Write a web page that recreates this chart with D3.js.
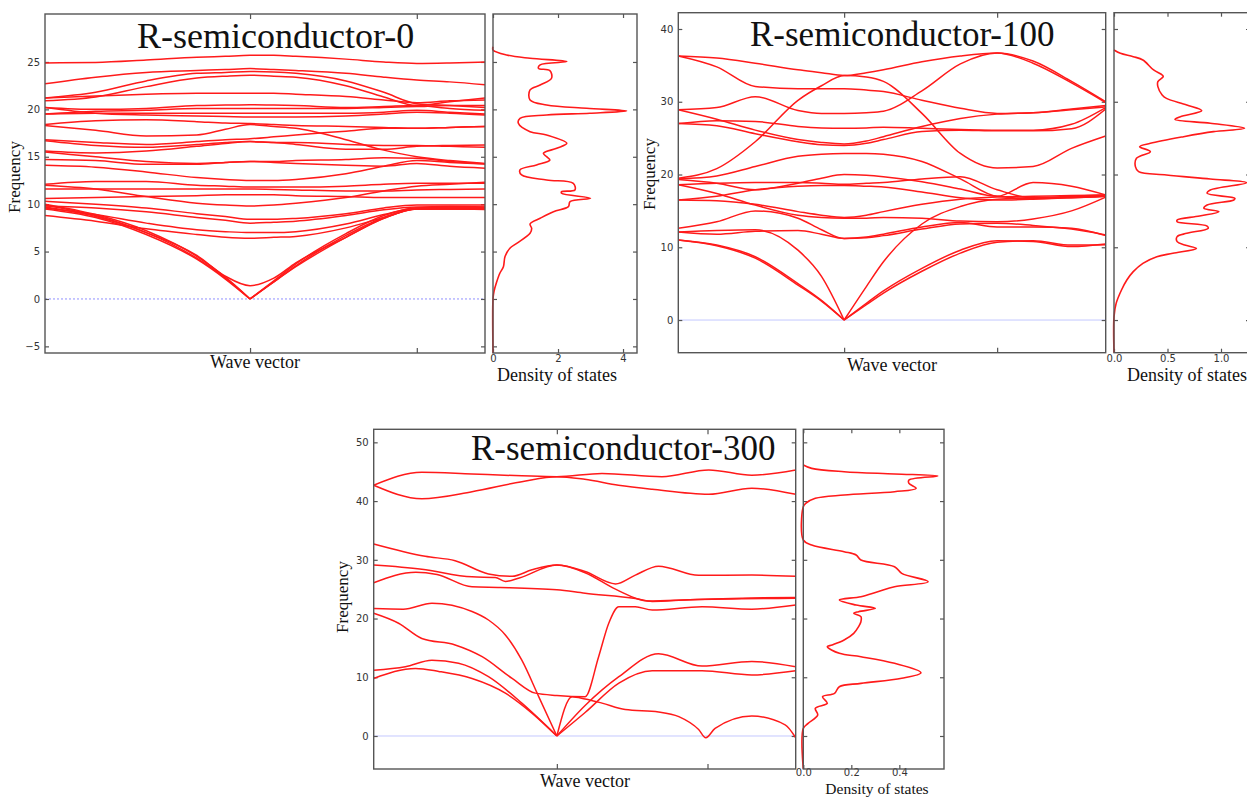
<!DOCTYPE html>
<html>
<head>
<meta charset="utf-8">
<script src="https://cdn.jsdelivr.net/npm/d3@7"></script>
<style>
  body { margin: 0; background: #fff; }
  svg { display: block; }
  .tick text { font-family: "DejaVu Sans", sans-serif; font-size: 10px; fill: #333; }
  .tick line { stroke: #555; stroke-width: 1.2; }
  .serif { font-family: "Liberation Serif", "Times New Roman", serif; fill: #111; }
</style>
</head>
<body>
<svg id="chart" width="1247" height="797"></svg>
<script>
// ---- R-semiconductor-0 ----
const kGrid0 = [0, 0.115, 0.23, 0.345, 0.41, 0.466, 0.52, 0.57, 0.684, 0.77, 0.845, 0.92, 1.0]
const bands0 = [
  [24.9, 24.95, 25.2, 25.5, 25.6, 25.7, 25.7, 25.6, 25.3, 25.0, 24.85, 24.9, 25.0],
  [22.7, 23.4, 23.9, 24.1, 24.2, 24.3, 24.2, 24.1, 23.8, 23.4, 23.1, 22.9, 22.6],
  [21.2, 21.8, 23.0, 23.8, 23.9, 24.0, 23.95, 23.8, 23.0, 21.8, 20.6, 20.4, 20.2],
  [20.9, 21.3, 22.4, 23.3, 23.5, 23.6, 23.5, 23.4, 22.5, 21.3, 20.4, 20.8, 21.2],
  [21.2, 21.4, 21.6, 21.7, 21.7, 21.7, 21.7, 21.6, 21.35, 21.0, 20.7, 20.9, 21.0],
  [20.2, 20.0, 20.1, 20.4, 20.45, 20.5, 20.45, 20.4, 20.2, 20.3, 20.4, 20.1, 19.9],
  [19.5, 19.8, 19.9, 20.1, 20.1, 20.1, 20.1, 20.1, 20.1, 20.2, 20.3, 20.4, 20.4],
  [19.5, 19.6, 19.6, 19.6, 19.6, 19.6, 19.6, 19.6, 19.6, 19.7, 19.9, 19.7, 19.5],
  [20.2, 19.6, 19.4, 19.3, 19.25, 19.2, 19.2, 19.2, 19.3, 19.5, 19.7, 19.6, 19.4],
  [18.4, 18.8, 18.9, 18.7, 18.55, 18.5, 18.4, 18.3, 18.2, 18.1, 18.0, 18.1, 18.2],
  [18.3, 17.8, 17.2, 17.3, 17.9, 18.4, 18.2, 18.0, 16.8, 15.7, 15.0, 14.6, 14.3],
  [16.8, 16.5, 16.3, 16.6, 16.8, 16.9, 17.1, 17.3, 17.7, 18.0, 18.0, 18.1, 18.2],
  [16.7, 16.2, 16.0, 16.3, 16.5, 16.6, 16.5, 16.5, 16.3, 16.2, 16.2, 16.1, 16.0],
  [15.6, 15.4, 15.6, 16.1, 16.4, 16.6, 16.5, 16.3, 15.8, 15.8, 16.1, 16.2, 16.25],
  [15.5, 15.0, 14.5, 14.3, 14.4, 14.5, 14.5, 14.6, 14.7, 14.9, 14.85, 14.5, 14.25],
  [14.7, 14.6, 14.2, 14.2, 14.4, 14.5, 14.4, 14.3, 14.1, 14.0, 14.3, 14.0, 13.8],
  [14.1, 13.9, 13.4, 12.8, 12.6, 12.5, 12.5, 12.6, 13.2, 14.0, 14.6, 14.4, 14.25],
  [12.1, 12.4, 12.4, 12.0, 11.9, 11.8, 11.8, 11.8, 11.9, 12.1, 12.2, 12.2, 12.2],
  [11.6, 11.6, 11.6, 11.6, 11.6, 11.6, 11.55, 11.5, 11.4, 11.4, 11.5, 11.55, 11.6],
  [12.0, 11.6, 10.8, 10.1, 9.9, 9.8, 9.9, 10.1, 10.7, 11.4, 11.9, 12.1, 12.3],
  [10.6, 10.7, 10.8, 10.9, 11.0, 11.0, 11.0, 10.9, 10.8, 10.7, 10.7, 10.7, 10.7],
  [10.3, 10.0, 9.6, 9.0, 8.7, 8.4, 8.4, 8.5, 9.0, 9.6, 9.9, 9.9, 9.9],
  [9.8, 9.6, 9.2, 8.6, 8.3, 8.0, 8.1, 8.2, 8.8, 9.4, 9.7, 9.75, 9.7],
  [9.6, 8.9, 8.0, 7.3, 7.1, 7.0, 7.0, 7.1, 7.9, 8.9, 9.6, 9.6, 9.6],
  [8.8, 8.2, 7.4, 6.8, 6.5, 6.4, 6.5, 6.6, 7.5, 8.6, 9.5, 9.5, 9.5],
  [9.9, 8.8, 7.0, 4.6, 2.4, 1.4, 2.2, 3.8, 6.5, 8.5, 9.5, 9.5, 9.45],
  [10.0, 8.9, 7.2, 4.5, 2.3, 0, 1.9, 3.7, 6.9, 8.8, 9.6, 9.7, 9.7],
  [9.5, 8.6, 6.8, 4.2, 2.1, 0, 1.8, 3.4, 6.5, 8.5, 9.5, 9.5, 9.5],
  [9.7, 8.7, 7.0, 4.3, 2.2, 0, 1.8, 3.5, 6.7, 8.6, 9.55, 9.6, 9.6]
]
// density of states: [frequency, dos]
const dos0 = [
  [26.6, 0], [26.27, 0.0], [25.74, 0.42], [25.39, 1.14], [25.04, 2.27], [24.7, 1.45], [24.33, 1.4],
  [24.09, 1.75], [23.28, 1.8], [22.57, 1.45], [22.05, 1.14], [20.99, 1.14], [20.46, 1.65], [20.11, 2.88],
  [19.83, 4.11], [19.59, 2.98], [19.41, 1.65], [19.06, 0.83], [18.53, 0.78], [17.65, 1.14], [17.3, 1.65],
  [16.42, 2.27], [15.9, 1.96], [15.37, 1.55], [15.01, 1.65], [14.66, 1.75], [14.14, 1.34], [13.61, 0.83],
  [13.08, 0.88], [12.55, 1.65], [12.2, 2.47], [11.5, 2.52], [11.32, 2.11], [11.15, 2.11], [10.62, 3.0],
  [10.27, 2.37], [9.74, 2.32], [9.21, 1.86], [8.51, 1.45], [7.91, 1.14], [7.45, 1.19], [6.93, 1.14],
  [5.87, 0.73], [5.35, 0.52], [4.47, 0.37], [3.41, 0.32], [2.71, 0.21], [1.65, 0.1], [0.78, 0.03],
  [0, 0], [-5.7, 0]
]

// ---- R-semiconductor-100 ----
const kGrid100 = [0, 0.09, 0.18, 0.28, 0.335, 0.388, 0.44, 0.48, 0.57, 0.66, 0.746, 0.83, 0.92, 1.0]
const bands100 = [
  [36.3, 36.0, 35.3, 34.4, 34.0, 33.6, 34.0, 34.4, 35.5, 36.3, 36.7, 35.6, 32.8, 30.0],
  [36.3, 34.8, 32.1, 31.8, 31.8, 31.8, 31.6, 31.4, 30.2, 29.1, 28.4, 28.5, 29.0, 29.5],
  [28.9, 29.2, 30.7, 28.8, 28.4, 28.4, 28.5, 28.7, 31.5, 35.2, 36.7, 35.3, 32.6, 29.9],
  [28.9, 27.6, 26.1, 24.8, 24.4, 24.2, 24.6, 25.2, 26.6, 27.7, 28.3, 28.5, 28.9, 29.3],
  [27.0, 27.4, 27.3, 26.6, 26.4, 26.35, 26.4, 26.5, 26.35, 26.2, 26.1, 26.1, 26.9, 29.2],
  [27.0, 26.7, 25.6, 24.5, 24.1, 24.0, 24.3, 24.8, 25.9, 26.1, 26.0, 26.0, 26.3, 29.0],
  [19.5, 20.8, 24.5, 30.2, 32.2, 33.6, 33.4, 32.8, 28.4, 22.9, 20.9, 21.1, 23.6, 25.3],
  [19.4, 19.8, 21.1, 22.5, 22.8, 22.9, 22.9, 22.8, 21.8, 19.4, 17.0, 16.7, 16.9, 17.1],
  [19.3, 18.8, 17.9, 18.8, 19.5, 20.0, 19.9, 19.7, 19.0, 18.0, 17.0, 18.9, 18.4, 17.2],
  [18.6, 18.8, 18.9, 18.9, 18.8, 18.65, 18.8, 18.9, 19.4, 19.7, 17.9, 16.8, 16.8, 17.0],
  [18.6, 17.4, 15.8, 14.4, 14.1, 14.0, 14.0, 14.1, 14.0, 13.6, 13.5, 13.9, 15.0, 16.9],
  [16.5, 16.4, 15.9, 14.9, 14.4, 14.1, 14.4, 14.9, 15.9, 16.6, 16.9, 17.0, 17.1, 17.2],
  [16.5, 17.0, 17.9, 18.4, 18.5, 18.5, 18.4, 18.3, 17.6, 16.8, 16.5, 16.6, 16.8, 17.0],
  [12.6, 13.5, 15.0, 14.0, 12.4, 11.2, 11.4, 11.8, 12.8, 13.4, 12.8, 12.8, 12.6, 11.6],
  [12.1, 11.8, 12.2, 12.3, 11.8, 11.2, 11.3, 11.6, 12.5, 13.2, 13.3, 13.0, 12.5, 11.7],
  [12.1, 12.3, 12.4, 9.6, 6.0, 0, 4.6, 8.0, 13.2, 15.6, 16.6, 16.8, 17.0, 17.2],
  [11.0, 10.3, 8.7, 5.0, 2.7, 0, 2.3, 4.0, 7.1, 9.6, 10.9, 10.8, 10.1, 10.45],
  [11.0, 10.2, 8.5, 4.8, 2.6, 0, 2.1, 3.7, 6.7, 9.2, 10.7, 10.9, 10.3, 10.35]
]
const dos100 = [
  [37.12, 0], [36.66, 0.06], [36.2, 0.18], [35.74, 0.27], [34.37, 0.37], [33.68, 0.45], [33.45, 0.46],
  [32.76, 0.41], [32.08, 0.41], [30.93, 0.45], [30.47, 0.49], [29.56, 0.68], [28.78, 0.82], [27.95, 0.62],
  [27.59, 0.57], [27.04, 0.9], [26.35, 1.22], [25.89, 0.93], [25.2, 0.65], [24.29, 0.34], [23.83, 0.24],
  [23.14, 0.34], [22.23, 0.21], [21.08, 0.2], [20.39, 0.23], [19.93, 0.49], [19.38, 0.9], [18.88, 1.24],
  [17.87, 0.9], [17.41, 0.87], [16.73, 1.13], [16.5, 1.12], [15.81, 0.87], [15.35, 0.84], [14.89, 0.98],
  [14.3, 0.8], [13.75, 0.59], [13.52, 0.59], [12.92, 0.87], [12.6, 0.88], [11.92, 0.68], [11.46, 0.59],
  [10.77, 0.59], [10.31, 0.66], [9.85, 0.77], [9.17, 0.55], [8.71, 0.4], [7.79, 0.27], [6.65, 0.18],
  [5.5, 0.12], [4.13, 0.07], [2.29, 0.02], [0.46, 0], [-4.49, 0]
]

// ---- R-semiconductor-300 ----
const bands300 = [
  [[0, 42.7], [0.114, 44.9], [0.233, 44.6], [0.351, 44.3], [0.434, 44.15], [0.541, 44.7], [0.683, 44.15], [0.794, 45.3], [0.896, 44.4], [1, 45.3]],
  [[0, 42.7], [0.114, 40.4], [0.233, 41.6], [0.351, 43.3], [0.434, 44.15], [0.5, 43.7], [0.58, 42.7], [0.66, 42.0], [0.794, 41.15], [0.896, 42.2], [1, 41.15]],
  [[0, 32.7], [0.122, 30.6], [0.193, 29.85], [0.272, 27.6], [0.328, 27.2], [0.375, 28.3], [0.434, 29.1], [0.501, 28.0], [0.573, 25.9], [0.62, 27.4], [0.675, 28.9], [0.77, 27.35], [0.896, 27.4], [1, 27.2]],
  [[0, 29.1], [0.114, 28.4], [0.233, 27.1], [0.288, 27.0], [0.312, 26.3], [0.345, 26.9], [0.434, 29.1], [0.501, 27.8], [0.573, 25.0], [0.65, 23.0], [0.75, 23.2], [0.896, 23.5], [1, 23.6]],
  [[0, 26.1], [0.1, 27.9], [0.15, 27.5], [0.233, 25.4], [0.3, 25.3], [0.434, 24.9], [0.501, 24.3], [0.62, 23.4], [0.66, 22.9], [0.75, 23.2], [1, 23.45]],
  [[0, 21.7], [0.07, 21.6], [0.138, 22.6], [0.233, 21.2], [0.272, 19.75], [0.312, 17.2], [0.351, 12.9], [0.391, 6.7], [0.434, 0], [0.47, 6.7], [0.501, 6.3], [0.541, 5.6], [0.596, 4.5], [0.675, 4.1], [0.723, 3.3], [0.77, 1.1], [0.787, -0.3], [0.809, 1.3], [0.896, 3.4], [0.975, 1.9], [1, -0.3]],
  [[0, 20.9], [0.059, 19.2], [0.114, 16.6], [0.193, 15.5], [0.257, 13.5], [0.328, 9.8], [0.383, 7.3], [0.434, 6.9], [0.501, 6.7], [0.533, 13.5], [0.557, 19.2], [0.581, 22.0], [0.62, 22.0], [0.66, 21.45], [0.778, 22.0], [0.896, 21.6], [1, 22.3]],
  [[0, 11.2], [0.075, 11.8], [0.138, 12.9], [0.201, 12.4], [0.272, 10.1], [0.351, 5.6], [0.434, 0], [0.501, 5.2], [0.581, 10.1], [0.675, 14.0], [0.778, 11.9], [0.896, 12.7], [1, 11.8]],
  [[0, 9.8], [0.099, 11.5], [0.154, 11.0], [0.233, 9.8], [0.312, 7.3], [0.375, 3.9], [0.434, 0], [0.501, 4.0], [0.581, 9.0], [0.66, 11.1], [0.778, 11.1], [0.896, 10.4], [1, 11.1]]
]
const dos300 = [
  [46.14, 0], [45.57, 0.035], [45.0, 0.17], [44.61, 0.38], [44.27, 0.56], [43.59, 0.44], [43.02, 0.44],
  [42.17, 0.47], [41.6, 0.38], [41.03, 0.17], [40.47, 0.05], [39.61, 0.01], [39.05, 0], [33.37, 0],
  [32.52, 0.035], [31.38, 0.17], [30.82, 0.22], [29.97, 0.24], [28.83, 0.38], [27.69, 0.41], [26.27, 0.52],
  [25.42, 0.38], [24.57, 0.31], [23.72, 0.24], [23.15, 0.15], [22.3, 0.22], [21.73, 0.3], [21.17, 0.23],
  [20.88, 0.21], [20.32, 0.24], [19.46, 0.24], [18.61, 0.23], [17.48, 0.21], [16.34, 0.17], [15.49, 0.12],
  [15.21, 0.1], [14.07, 0.15], [13.5, 0.24], [12.37, 0.38], [10.78, 0.49], [9.82, 0.41], [8.96, 0.24],
  [8.39, 0.15], [7.26, 0.13], [6.69, 0.08], [5.56, 0.1], [4.71, 0.05], [3.57, 0.06], [2.15, 0.02],
  [1.3, 0], [-5.6, 0]
]

const svg = d3.select("#chart")
const RED = "#ff1a1a"

// acoustic branches meet zero at Gamma with a sharp cusp: cut the line there
function splitAtZero(pts) {
  let segs = [], cur = []
  pts.forEach((p, i) => {
    cur.push(p)
    if (p[1] === 0 && i > 0 && i < pts.length - 1) {
      segs.push(cur)
      cur = [p]
    }
  })
  segs.push(cur)
  return segs
}

function drawPanel(p) {
  let g = svg.append("g")
  let x = d3.scaleLinear().domain([0, 1]).range([p.left, p.right])
  let y = d3.scaleLinear().domain(p.fDomain).range([p.bottom, p.top])
  let xd = d3.scaleLinear().domain(p.dosDomain).range([p.dLeft, p.dRight])

  // zero line
  g.append("line")
    .attr("x1", p.left).attr("x2", p.right)
    .attr("y1", y(0)).attr("y2", y(0))
    .attr("stroke", p.zeroColor)
    .attr("stroke-width", 1)
    .attr("stroke-dasharray", p.zeroDash)

  // band axes, ticks inward on all sides
  g.append("g").attr("transform", `translate(${p.left},0)`)
    .call(d3.axisLeft(y).tickValues(p.fTicks).tickSize(-4).tickPadding(5))
  g.append("g").attr("transform", `translate(${p.right},0)`)
    .call(d3.axisRight(y).tickValues(p.fTicks).tickSize(-4).tickFormat(""))
  g.append("g").attr("transform", `translate(0,${p.bottom})`)
    .call(d3.axisBottom(x).tickValues(p.kTicks).tickSize(-5).tickFormat(""))
  g.append("g").attr("transform", `translate(0,${p.top})`)
    .call(d3.axisTop(x).tickValues(p.kTicks).tickSize(-5).tickFormat(""))

  // dos axes
  g.append("g").attr("transform", `translate(${p.dLeft},0)`)
    .call(d3.axisLeft(y).tickValues(p.fTicks).tickSize(-4).tickFormat(""))
  g.append("g").attr("transform", `translate(${p.dRight},0)`)
    .call(d3.axisRight(y).tickValues(p.fTicks).tickSize(-4).tickFormat(""))
  g.append("g").attr("transform", `translate(0,${p.bottom})`)
    .call(d3.axisBottom(xd).tickValues(p.dosTicks).tickSize(-4).tickPadding(p.dosPad).tickFormat(d3.format(p.dosFmt)))
  g.append("g").attr("transform", `translate(0,${p.top})`)
    .call(d3.axisTop(xd).tickValues(p.dosTicks).tickSize(-4).tickFormat(""))
  g.selectAll(".domain").remove()

  // band lines
  let clipId = "clip" + p.id
  g.append("clipPath").attr("id", clipId).append("rect")
    .attr("x", p.left).attr("y", p.top)
    .attr("width", p.right - p.left).attr("height", p.bottom - p.top)
  let line = d3.line().x(d => x(d[0])).y(d => y(d[1])).curve(d3.curveMonotoneX)
  g.append("g").attr("clip-path", `url(#${clipId})`)
    .selectAll("path").data(p.bands.flatMap(splitAtZero)).join("path")
    .attr("d", line)
    .attr("fill", "none")
    .attr("stroke", RED)
    .attr("stroke-width", p.lw)

  // dos curve
  let dline = d3.line().x(d => xd(d[1])).y(d => y(d[0])).curve(d3.curveCatmullRom)
  g.append("path").attr("d", dline(p.dos))
    .attr("fill", "none").attr("stroke", RED).attr("stroke-width", 1.6)

  // frames
  g.append("rect").attr("x", p.left).attr("y", p.top)
    .attr("width", p.right - p.left).attr("height", p.bottom - p.top)
    .attr("fill", "none").attr("stroke", "#555").attr("stroke-width", 1.4)
  g.append("rect").attr("x", p.dLeft).attr("y", p.top)
    .attr("width", p.dRight - p.dLeft).attr("height", p.bottom - p.top)
    .attr("fill", "none").attr("stroke", "#555").attr("stroke-width", 1.4)

  // texts
  g.append("text").attr("class", "serif")
    .attr("x", p.titleX).attr("y", p.titleY)
    .attr("font-size", p.titleSize)
    .text(p.title)
  g.append("text").attr("class", "serif")
    .attr("transform", `translate(${p.freqX},${p.freqY}) rotate(-90)`)
    .attr("text-anchor", "middle").attr("font-size", 17)
    .text("Frequency")
  g.append("text").attr("class", "serif")
    .attr("x", p.waveX).attr("y", p.waveY)
    .attr("text-anchor", "middle").attr("font-size", 18)
    .text("Wave vector")
  g.append("text").attr("class", "serif")
    .attr("x", p.dosLabX).attr("y", p.dosLabY)
    .attr("text-anchor", "middle").attr("font-size", p.dosLabSize)
    .text("Density of states")
}

drawPanel({
  id: 0, title: "R-semiconductor-0",
  left: 45, right: 485, top: 14, bottom: 353,
  dLeft: 493, dRight: 637,
  fDomain: [-5.7, 30.06], fTicks: [-5, 0, 5, 10, 15, 20, 25],
  kTicks: [0.466, 0.845],
  dosDomain: [0, 4.43], dosTicks: [0, 2, 4], dosFmt: "d", dosPad: 2,
  bands: bands0.map(b => b.map((f, i) => [kGrid0[i], f])),
  dos: dos0, lw: 1.5,
  zeroColor: "#8f8fff", zeroDash: "2,2",
  titleX: 137, titleY: 48, titleSize: 36,
  freqX: 20, freqY: 177, waveX: 255, waveY: 368,
  dosLabX: 557, dosLabY: 381, dosLabSize: 18
})

drawPanel({
  id: 1, title: "R-semiconductor-100",
  left: 678.3, right: 1105.7, top: 12.7, bottom: 352.7,
  dLeft: 1114, dRight: 1250,
  fDomain: [-4.49, 42.24], fTicks: [0, 10, 20, 30, 40],
  kTicks: [0.388, 0.746],
  dosDomain: [0, 1.271], dosTicks: [0, 0.5, 1.0], dosFmt: ".1f", dosPad: 2,
  bands: bands100.map(b => b.map((f, i) => [kGrid100[i], f])),
  dos: dos100, lw: 1.5,
  zeroColor: "#c4c8ff", zeroDash: null,
  titleX: 750, titleY: 46, titleSize: 35,
  freqX: 655, freqY: 174, waveX: 892, waveY: 371,
  dosLabX: 1187, dosLabY: 381, dosLabSize: 18
})

drawPanel({
  id: 2, title: "R-semiconductor-300",
  left: 373.7, right: 795.7, top: 429.3, bottom: 769,
  dLeft: 803.3, dRight: 944,
  fDomain: [-5.62, 52.22], fTicks: [0, 10, 20, 30, 40, 50],
  kTicks: [0.434, 0.791],
  dosDomain: [0, 0.586], dosTicks: [0, 0.2, 0.4], dosFmt: ".1f", dosPad: 0,
  bands: bands300,
  dos: dos300, lw: 1.5,
  zeroColor: "#c4c8ff", zeroDash: null,
  titleX: 471, titleY: 460, titleSize: 35,
  freqX: 348, freqY: 597, waveX: 585, waveY: 787,
  dosLabX: 877, dosLabY: 793.5, dosLabSize: 15.5
})
</script>
</body>
</html>
